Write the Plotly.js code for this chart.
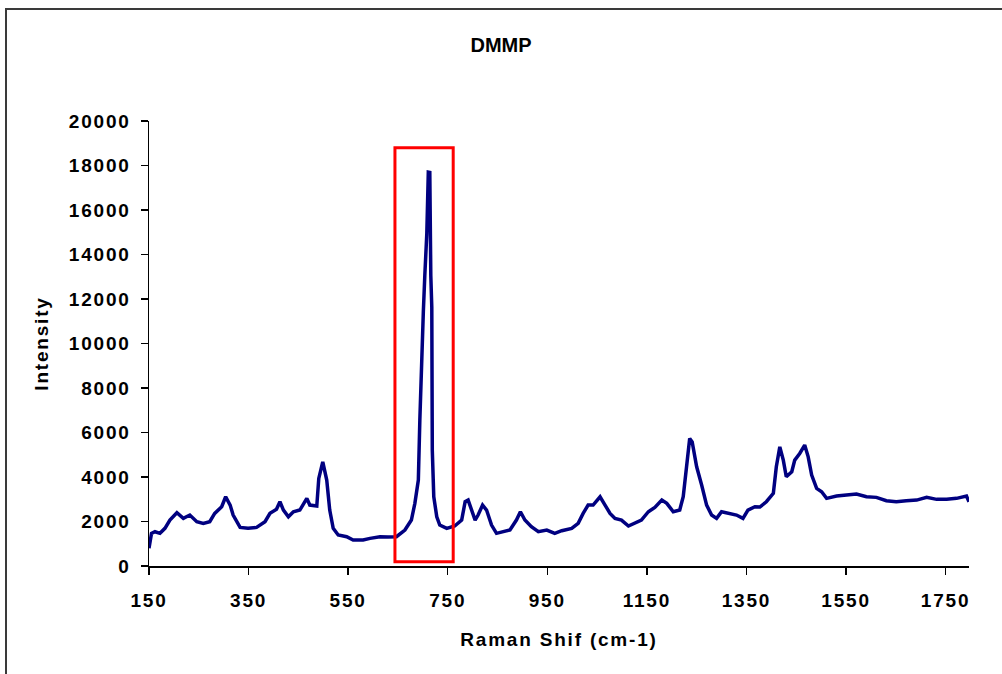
<!DOCTYPE html>
<html><head><meta charset="utf-8">
<script src="https://cdn.plot.ly/plotly-3.0.1.min.js"></script>
<style>
html,body{margin:0;padding:0;background:#fff;overflow:hidden;}
#chart{width:1002px;height:674px;}
#chart .xtick text, #chart .ytick text, #chart .g-xtitle text, #chart .g-ytitle text{letter-spacing:1.8px;}
#chart .g-gtitle text{letter-spacing:0px;}
#frame{position:absolute;left:5px;top:8px;width:1100px;height:800px;border-left:2px solid #3a3a3a;border-top:2px solid #3a3a3a;pointer-events:none;}
</style></head>
<body><div id="chart"></div><div id="frame"></div>
<script>
const chartTitle = 'DMMP';
const xAxisTitle = 'Raman Shif (cm-1)';
const yAxisTitle = 'Intensity';
const ramanShift = [150,155,162,172,182,192,206,219,232,246,259,272,282,296,304,313,319,333,349,366,383,393,406,413,420,430,440,453,467,473,487,491,499,507,513,520,530,547,560,580,594,614,630,647,664,677,684,691,694,698,701,704,708,711,714,716,718,719,722,728,734,748,764,778,785,791,798,805,811,820,828,838,848,861,875,888,896,905,918,932,949,965,979,999,1012,1022,1032,1042,1056,1066,1076,1086,1099,1113,1126,1139,1153,1166,1180,1190,1203,1216,1223,1232,1236,1241,1250,1260,1270,1280,1290,1300,1313,1330,1343,1353,1367,1377,1390,1404,1410,1417,1424,1430,1441,1447,1457,1467,1474,1481,1491,1501,1511,1531,1551,1571,1591,1611,1631,1651,1671,1692,1712,1732,1752,1772,1792,1797];
const intensity = [795,1468,1540,1468,1692,2065,2394,2140,2290,1990,1915,1990,2365,2663,3112,2739,2290,1736,1692,1736,1990,2365,2546,2888,2514,2215,2440,2514,3040,2739,2694,3937,4683,3861,2514,1692,1392,1316,1167,1167,1242,1316,1300,1316,1616,2065,2815,3861,6555,9846,11418,13066,14938,17704,17690,13066,11643,5208,3112,2215,1841,1692,1796,2065,2888,2963,2514,2065,2290,2739,2514,1841,1468,1540,1616,2065,2440,2065,1765,1540,1616,1468,1585,1692,1915,2365,2739,2739,3112,2739,2365,2140,2065,1796,1915,2065,2440,2635,2963,2815,2440,2514,3112,5058,5730,5580,4460,3637,2739,2290,2140,2440,2365,2290,2140,2514,2663,2650,2888,3264,4460,5356,4759,4010,4234,4759,5058,5433,4908,4086,3489,3336,3040,3143,3188,3233,3112,3085,2932,2888,2932,2963,3085,2995,2995,3040,3143,2888];
const xTickVals = [150,350,550,750,950,1150,1350,1550,1750];
const yTickVals = [0,2000,4000,6000,8000,10000,12000,14000,16000,18000,20000];
const yTickText = yTickVals.map(v => String(v));
const highlightRange = {x: [644, 761], y: [193, 18800]};

const font = {family: 'Liberation Sans, Arial, sans-serif', size: 19, color: '#000', weight: 'bold'};
const titleFont = {family: 'Liberation Sans, Arial, sans-serif', size: 20, color: '#000', weight: 'bold'};

const trace = {
  x: ramanShift, y: intensity, type: 'scatter', mode: 'lines',
  line: {color: '#000080', width: 3.5}, hoverinfo: 'skip'
};

const layout = {
  width: 1002, height: 674,
  margin: {l: 149, r: 33, t: 121, b: 108},
  paper_bgcolor: '#fff', plot_bgcolor: '#fff',
  showlegend: false,
  font: font,
  title: {text: chartTitle, font: titleFont, x: 0.5, xref: 'container', xanchor: 'center', y: 0.933, yref: 'container', yanchor: 'middle'},
  xaxis: {
    range: [150, 1797], showgrid: false, zeroline: false,
    showline: true, linecolor: '#000', linewidth: 1.5,
    ticks: 'outside', ticklen: 7, tickwidth: 1.5, tickcolor: '#000',
    tickvals: xTickVals, ticktext: xTickVals.map(String),
    tickfont: font, ticklabelstandoff: 10,
    title: {text: xAxisTitle, font: font, standoff: 22}
  },
  yaxis: {
    range: [0, 20000], showgrid: false, zeroline: false,
    showline: true, linecolor: '#000', linewidth: 1.5,
    ticks: 'outside', ticklen: 7, tickwidth: 1.5, tickcolor: '#000',
    tickvals: yTickVals, ticktext: yTickText,
    tickfont: font, ticklabelstandoff: 6,
    title: {text: yAxisTitle, font: font, standoff: 24}
  },
  shapes: [{
    type: 'rect', xref: 'x', yref: 'y',
    x0: highlightRange.x[0], x1: highlightRange.x[1],
    y0: highlightRange.y[0], y1: highlightRange.y[1],
    line: {color: '#ff0000', width: 3}, fillcolor: 'rgba(0,0,0,0)', layer: 'above'
  }]
};

Plotly.newPlot('chart', [trace], layout, {displayModeBar: false, staticPlot: true});
</script>
</body></html>
